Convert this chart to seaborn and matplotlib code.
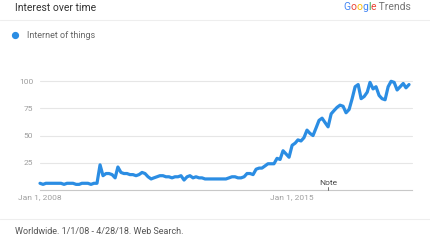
import matplotlib
matplotlib.use("Agg")
import matplotlib.pyplot as plt
import seaborn as sns
import pandas as pd

# ---- data ----
start_month = "2008-01-01"
n_months = 124
interest = [6, 5, 6, 6, 6, 6, 6, 6, 5, 6, 6, 6, 5, 5, 6, 6, 6, 5, 6,
            6, 23, 13, 15, 15, 14, 11, 21, 16, 15, 15, 14, 14, 13, 14, 16, 15,
            12, 10, 11, 12, 13, 13, 12, 12, 11, 12, 12, 13, 9, 12, 13, 11,
            12, 11, 11, 10, 10, 10, 10, 10, 10, 10, 10, 11, 12, 12, 11, 11,
            12, 15, 15, 14, 19, 20, 20, 22, 24, 24, 24, 29, 28, 36, 33, 30,
            41, 43, 46, 45, 48, 55, 52, 50, 57, 64, 66, 62, 58, 70, 73, 76,
            78, 77, 71, 74, 84, 95, 97, 84, 86, 90, 99, 93, 95, 87, 84, 83,
            95, 100, 99, 92, 95, 98, 94, 97]
series_name = "Internet of things"
y_ticks = [25, 50, 75, 100]
x_tick_dates = ["2008-01-01", "2015-01-01"]
x_tick_labels = ["Jan 1, 2008", "Jan 1, 2015"]
note_date = "2016-01-01"
title = "Interest over time"
footer = "Worldwide. 1/1/08 - 4/28/18. Web Search."

dates = pd.date_range(start_month, periods=n_months, freq="MS")
df = pd.DataFrame({"date": dates, "value": interest})

sns.set_theme(style="white")
plt.rcParams["font.family"] = ["Roboto", "DejaVu Sans"]

W, H = 431, 240
fig = plt.figure(figsize=(W / 100, H / 100), dpi=100)
fig.patch.set_facecolor("white")

def fx(px):
    return px / W

def fy(py):
    return 1 - py / H

ax = fig.add_axes([fx(40), fy(189.8), fx(412) - fx(40), fy(81.3) - fy(189.8)])
ax.set_facecolor("white")

for t in y_ticks:
    ax.axhline(t, color="#e6e6e6", lw=0.8, zorder=0, clip_on=False)

blue = "#2b8de3"
sns.lineplot(data=df, x="date", y="value", ax=ax, color=blue, lw=2.3,
             legend=False, clip_on=False, zorder=3)

ax.set_ylim(0, 100)
ax.set_xlim(pd.Timestamp("2008-01-01"), pd.Timestamp("2018-05-01"))
for s in ["top", "right", "left"]:
    ax.spines[s].set_visible(False)
ax.spines["bottom"].set_color("#c8c8c8")
ax.spines["bottom"].set_linewidth(0.8)
ax.set_yticks(y_ticks)
ax.set_yticklabels([str(t) for t in y_ticks], fontsize=6, color="#9e9e9e")
ax.tick_params(axis="y", length=0, pad=5)
ax.set_xticks([pd.Timestamp(d) for d in x_tick_dates])
ax.set_xticklabels(x_tick_labels, fontsize=6, color="#9e9e9e")
ax.tick_params(axis="x", length=0, pad=3)
ax.set_xlabel("")
ax.set_ylabel("")

# Note marker
nd = pd.Timestamp(note_date)
ax.plot([nd, nd], [0, 2.5], color="#555555", lw=0.6, clip_on=False, zorder=4)
ax.text(nd, 3.5, "Note", fontsize=6, color="#444444", ha="center", va="bottom")

# Header
fig.text(fx(15), fy(8), title, fontsize=7.5, color="#333333", va="center", ha="left")
fig.add_artist(plt.Line2D([0, 1], [fy(20), fy(20)], color="#eeeeee", lw=0.8))

google = [("G", "#4285f4"), ("o", "#ea4335"), ("o", "#fbbc05"),
          ("g", "#4285f4"), ("l", "#34a853"), ("e", "#ea4335")]
prev = fig.text(fx(343), fy(7), google[0][0], color=google[0][1], fontsize=7.5,
                va="center", ha="left")
for ch, col in google[1:]:
    prev = fig.text(0, 0, ch, color=col, fontsize=7.5, va="bottom", ha="left",
                    transform=None) if False else plt.annotate(
        ch, xy=(1, 0), xycoords=prev, va="bottom", ha="left",
        fontsize=7.5, color=col, annotation_clip=False)
plt.annotate(" Trends", xy=(1, 0), xycoords=prev, va="bottom", ha="left",
             fontsize=7.5, color="#757575", annotation_clip=False)

# Legend
fig.add_artist(plt.Line2D([fx(15.5)], [fy(35)], marker="o", ms=4.2,
                          color=blue, lw=0))
fig.text(fx(27), fy(35), series_name, fontsize=6.5, color="#666666",
         va="center", ha="left")

# Footer
fig.add_artist(plt.Line2D([0, 1], [fy(219), fy(219)], color="#eeeeee", lw=0.8))
fig.text(fx(15), fy(232), footer, fontsize=6.5, color="#555555",
         va="center", ha="left")

fig.savefig("out.png", dpi=100, facecolor="white")
